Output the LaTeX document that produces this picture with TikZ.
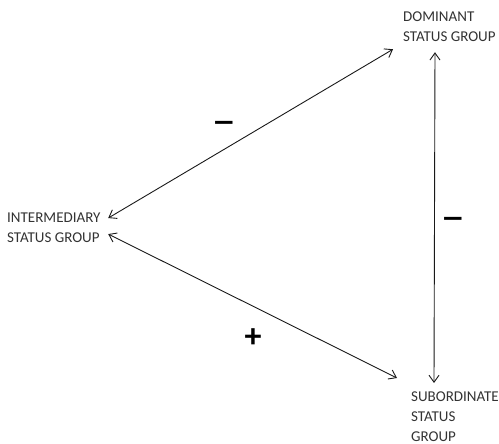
\documentclass[tikz,border=0pt]{standalone}
\usepackage{fontspec}
\setmainfont{Carlito}
\usetikzlibrary{arrows.meta}
\begin{document}
\begin{tikzpicture}[x=1pt, y=-1pt]
\tikzset{groupe/.style={anchor=north west, inner sep=0pt, align=left, text=black!80, font=\fontsize{15}{20}\selectfont},
signe/.style={inner sep=0pt, font=\fontsize{34}{34}\selectfont\bfseries},
fleche/.style={{Straight Barb[length=7pt, width=10pt]}-{Straight Barb[length=7pt, width=10pt]}, line width=0.9pt, black!90}}
\useasboundingbox (0, 0) rectangle (499, 444);
\node[groupe] (G1) at (7, 213) {INTERMEDIARY\\STATUS GROUP};
\node[groupe] (G2) at (403, 12) {DOMINANT\\STATUS GROUP};
\node[groupe] (G3) at (411, 392) {SUBORDINATE\\STATUS\\GROUP};
\node[signe, xscale=1.45] (S1) at (224, 127) {–};
\node[signe, xscale=1.45] (S2) at (453, 223) {–};
\node[signe] (S3) at (253, 338) {+};
\draw[fleche] ([xshift=7.5pt, yshift=10pt]G1.east) -- ([xshift=-10pt, yshift=-7pt]G2.south west);
\draw[fleche] ([xshift=7.5pt, yshift=-6pt]G1.east) -- ([xshift=-14pt, yshift=14pt]G3.north west);
\draw[fleche] ([xshift=32pt, yshift=-10pt]G2.south west) -- ([xshift=23pt, yshift=9pt]G3.north west);
\end{tikzpicture}
\end{document}
